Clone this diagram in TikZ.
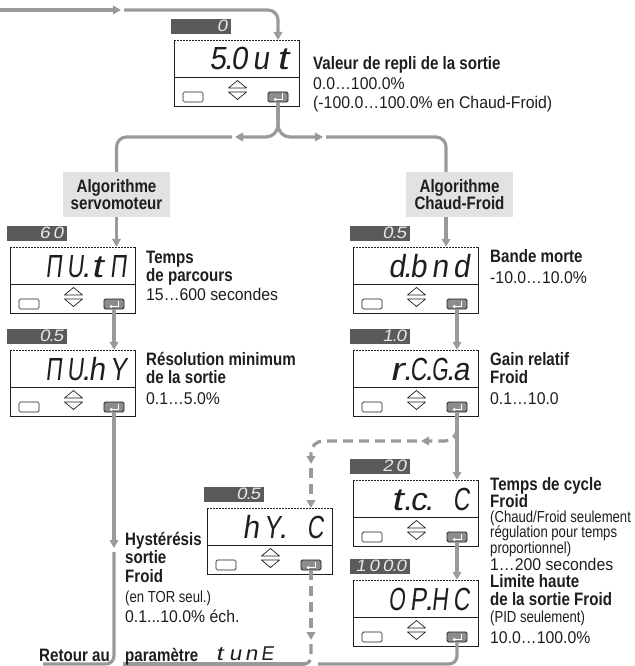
\documentclass[tikz,border=0pt]{standalone}
\usepackage{fontspec}
\usepackage{graphicx}
\setmainfont{Liberation Sans}
\newfontfamily\Bfam{Liberation Sans}[FakeStretch=0.84]
\newfontfamily\Rfam{Liberation Sans}[FakeStretch=0.93]
\newfontfamily\Sfam{Liberation Sans}[FakeStretch=0.82]
\newfontfamily\SegM{Liberation Sans}[FakeSlant=0.16]
\newfontfamily\SegL{Liberation Sans}[FakeSlant=0.16]
\newlength\sgw
\newlength\sgg
\newcommand\Bf{\Bfam\bfseries\fontsize{18}{18}\selectfont}
\newcommand\Rf{\Rfam\fontsize{17}{18}\selectfont}
\newcommand\Sf{\Sfam\fontsize{16}{16}\selectfont}
\newcommand\Mf{\SegM\fontsize{32}{32}\selectfont\setlength\sgw{21.5pt}\setlength\sgg{16.5pt}}
\newcommand\Lf{\SegL\fontsize{16.5}{16.5}\selectfont\setlength\sgw{13.5pt}\setlength\sgg{10.5pt}}
\newcommand\Tf{\SegL\fontsize{20}{20}\selectfont\setlength\sgw{16pt}\setlength\sgg{12.5pt}}
\usetikzlibrary{arrows.meta}
\makeatletter
\def\segs#1{\segs@i#1\relax}
\def\segglyph#1{\setbox0\hbox{#1}\edef\sgtmp{\the\wd0}%
  \pgfmathsetmacro\sgr{min(\the\sgg/\sgtmp,1.3)}\scalebox{\sgr}[1]{#1}}
\def\segs@i#1{\ifx#1\relax\else
  \ifx#1.\makebox[0pt][c]{.}\else
  \ifx#1~\hspace*{\sgw}\else
  \makebox[\sgw][c]{\segglyph{#1}}\fi\fi
  \expandafter\segs@i\fi}
\makeatother
\definecolor{ln}{HTML}{9A9A9A}
\definecolor{ink}{HTML}{1E1E1E}
\definecolor{barc}{HTML}{5A5A5A}
\definecolor{bartx}{HTML}{E6E6E6}
\definecolor{keyc}{HTML}{8C8C8C}
\definecolor{algc}{HTML}{E2E2E2}
\tikzset{
  conn/.style={draw=ln, line width=3.2pt},
  dconn/.style={conn, dash pattern=on 10pt off 6pt},
  bline/.style={draw=ink, line width=0.8pt},
  dframe/.style={minimum width=125pt, minimum height=66pt, inner sep=0pt},
  lbar/.style={fill=barc, minimum width=60pt, minimum height=15pt, inner sep=0pt},
  lbtx/.style={anchor=base east, inner sep=0pt, text=bartx, font=\Lf},
  segtx/.style={anchor=base east, inner sep=0pt, text=ink, font=\Mf},
  btn/.style={draw=ink, line width=0.7pt, fill=white, rounded corners=1.5pt, minimum width=20pt, minimum height=10pt, inner sep=0pt},
  keybtn/.style={draw=ink, line width=0.8pt, fill=keyc, rounded corners=1.5pt, minimum width=20pt, minimum height=10pt, inner sep=0pt},
  keysym/.style={draw=white, line width=0.9pt, -{Triangle[length=2.6pt,width=3.6pt]}},
  tri/.style={draw=ink, line width=0.7pt, fill=white, line join=round},
  albox/.style={fill=algc, minimum width=107pt, minimum height=45pt, inner sep=0pt, align=center, text=ink, font=\Bfam\bfseries\fontsize{18}{17}\selectfont},
  tx/.style={anchor=base west, inner sep=0pt, text=ink},
  pics/disp/.style n args={2}{code={
    \node[dframe] (-box) at (62.5,33) {};
    \draw[bline] (0,0) -- (0,66) -- (125,66) -- (125,0);
    \draw[bline, dash pattern=on 1.5pt off 1.5pt] (0,0) -- (125,0);
    \draw[bline] (0,37) -- (125,37);
    \node[lbar] (-bar) at (27,-13.5) {};
    \node[lbtx] (-lab) at (55,-8.5) {\segs{#1}};
    \node[segtx] (-val) at (119,30) {\segs{#2}};
    \node[btn] (-btn) at (19,57) {};
    \draw[tri] (54.5,48) -- (63.5,40.5) -- (72.5,48) -- cycle;
    \draw[tri] (54.5,52) -- (63.5,59.5) -- (72.5,52) -- cycle;
    \node[keybtn] (-key) at (104,57) {};
    \draw[keysym] (108.5,53.5) -- (108.5,59.5) -- (99.5,59.5);
    \coordinate (-top) at (104,0);
  }}
}
\begin{document}
\begin{tikzpicture}[x=1pt, y=-1pt, >={Triangle[length=8pt,width=8.5pt]}]
\useasboundingbox[fill=white] (0,0) rectangle (634,666);

% display units
\pic (sout) at (174,40) {disp={0}{5.0ut}};
\pic (mvtm) at (10,247) {disp={60}{ΠU.tΠ}};
\pic (mvhy) at (10,350) {disp={0.5}{ΠU.hY}};
\pic (dbnd) at (353,247) {disp={0.5}{d.bnd}};
\pic (rcca) at (353,350) {disp={1.0}{r.C.G.a}};
\pic (tcc) at (353,480) {disp={20}{t.c.~C}};
\pic (ophc) at (353,580) {disp={100.0}{OP.HC}};
\pic (hyc) at (207,508) {disp={0.5}{hY.~C}};

% algorithm boxes
\node[albox] (alg1) at (116.5,194.5) {Algorithme\\servomoteur};
\node[albox] (alg2) at (459.5,194.5) {Algorithme\\Chaud-Froid};

% coordinates for connectors
\coordinate (entry) at (0,10);
\coordinate (m1) at (121,10);
\coordinate (m1b) at (124,10);
\coordinate (split) at (278,119);
\coordinate (lb1) at (235,137);
\coordinate (lb2) at (232,137);
\coordinate (rb1) at (323,137);
\coordinate (rb2) at (326,137);
\coordinate (a2in) at (446,172);
\coordinate (a2out) at (446,217);
\coordinate (ret1) at (114,548);
\coordinate (ret2) at (114,552);
\coordinate (ret3) at (43,664);
\coordinate (bot1) at (318,664);
\coordinate (bot2) at (305,664);
\coordinate (bot3) at (123,664);
\coordinate (d1) at (421,441);
\coordinate (d2) at (417,441);
\coordinate (d3) at (311,464);
\coordinate (d4) at (311,468);
\coordinate (d5) at (311,640);
\coordinate (d6) at (311,644);

% solid connectors
\draw[conn,->] (entry) -- (m1);
\draw[conn,->,rounded corners=10pt] (m1b) -| (sout-top);
\draw[conn] (sout-key.south) -- (split);
\draw[conn,->,rounded corners=12pt] (split) |- (lb1);
\draw[conn,->,rounded corners=12pt] (split) |- (rb1);
\draw[conn,rounded corners=10pt] (lb2) -| (alg1.north);
\draw[conn,rounded corners=10pt] (rb2) -| (a2in);
\draw[conn,->] (alg1.south) -- (alg1.south |- mvtm-box.north);
\draw[conn,->] (a2out) -- (a2out |- dbnd-box.north);
\draw[conn,->] (mvtm-key.south) -- (mvtm-key.south |- mvhy-box.north);
\draw[conn,->] (dbnd-key.south) -- (dbnd-key.south |- rcca-box.north);
\draw[conn,->] (rcca-key.south) -- (rcca-key.south |- tcc-box.north);
\draw[conn,->] (tcc-key.south) -- (tcc-key.south |- ophc-box.north);
\draw[conn,->] (mvhy-key.south) -- (ret1);
\draw[conn,rounded corners=8pt] (ret2) |- (ret3);
\draw[conn,rounded corners=8pt] (ophc-key.south) |- (bot1);
\draw[conn] (bot2) -- (bot3);

% dashed connectors
\draw[dconn,->,rounded corners=12pt] (rcca-key.south) |- (d1);
\draw[dconn,->,rounded corners=12pt] (d2) -| (d3);
\draw[dconn,->] (d4) -- (hyc-top);
\draw[dconn,->] (hyc-key.south) -- (d5);
\draw[dconn,rounded corners=7pt] (d6) |- (bot2);

% texts
\node[tx,font=\Bf] (t1a) at (313,70) {Valeur de repli de la sortie};
\node[tx,font=\Rf] (t1b) at (313,90) {0.0…100.0\%};
\node[tx,font=\Rf] (t1c) at (313,109) {(-100.0…100.0\% en Chaud-Froid)};

\node[tx,font=\Bf] (t2a) at (146,263) {Temps};
\node[tx,font=\Bf] (t2b) at (146,281) {de parcours};
\node[tx,font=\Rf] (t2c) at (146,300) {15…600 secondes};

\node[tx,font=\Bf] (t3a) at (146,365) {Résolution minimum};
\node[tx,font=\Bf] (t3b) at (146,383) {de la sortie};
\node[tx,font=\Rf] (t3c) at (146,404) {0.1…5.0\%};

\node[tx,font=\Bf] (t4a) at (490,262) {Bande morte};
\node[tx,font=\Rf] (t4b) at (490,283) {-10.0…10.0\%};

\node[tx,font=\Bf] (t5a) at (490,365) {Gain relatif};
\node[tx,font=\Bf] (t5b) at (490,383) {Froid};
\node[tx,font=\Rf] (t5c) at (490,404) {0.1…10.0};

\node[tx,font=\Bf] (t6a) at (490,490) {Temps de cycle};
\node[tx,font=\Bf] (t6b) at (490,507) {Froid};
\node[tx,font=\Sf] (t6c) at (490,522) {(Chaud/Froid seulement};
\node[tx,font=\Sf] (t6d) at (490,537) {régulation pour temps};
\node[tx,font=\Sf] (t6e) at (490,553) {proportionnel)};
\node[tx,font=\Rf] (t6f) at (490,570) {1…200 secondes};

\node[tx,font=\Bf] (t7a) at (490,587) {Limite haute};
\node[tx,font=\Bf] (t7b) at (490,605) {de la sortie Froid};
\node[tx,font=\Sf] (t7c) at (490,622) {(PID seulement)};
\node[tx,font=\Rf] (t7d) at (490,643) {10.0…100.0\%};

\node[tx,font=\Bf] (t8a) at (125,545) {Hystérésis};
\node[tx,font=\Bf] (t8b) at (125,563) {sortie};
\node[tx,font=\Bf] (t8c) at (125,582) {Froid};
\node[tx,font=\Sf] (t8d) at (125,602) {(en TOR seul.)};
\node[tx,font=\Rf] (t8e) at (125,622) {0.1...10.0\% éch.};

\node[tx,font=\Bf] (t9a) at (39,661) {Retour au};
\node[tx,font=\Bf] (t9b) at (125,661) {paramètre};
\node[tx,font=\Tf] (t9c) at (211,660) {\segs{tunE}};
\end{tikzpicture}
\end{document}
